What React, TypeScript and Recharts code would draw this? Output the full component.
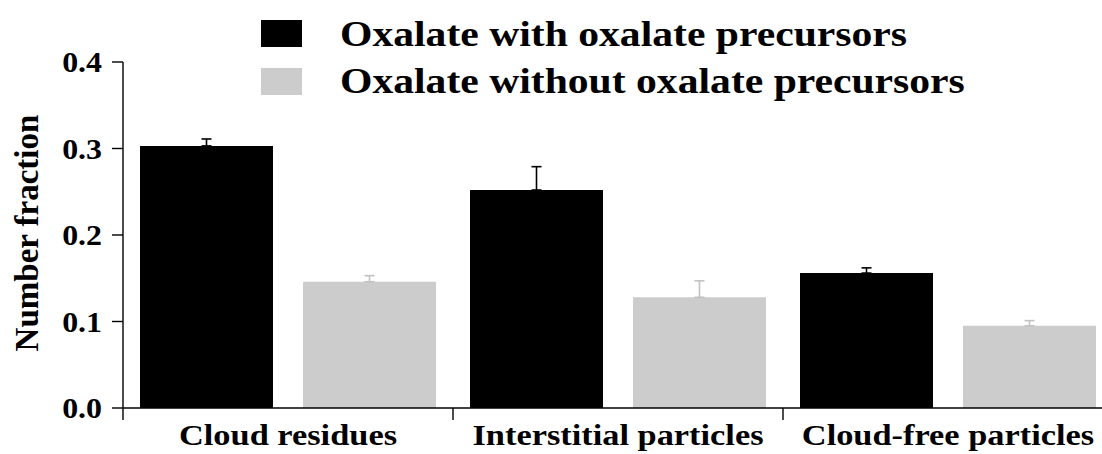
import { BarChart, Bar, XAxis, YAxis, ErrorBar, Legend } from "recharts";

const categories = ["Cloud residues", "Interstitial particles", "Cloud-free particles"];
const withPrecursors = [0.303, 0.252, 0.156];
const withPrecursorsErr = [0.008, 0.027, 0.006];
const withoutPrecursors = [0.146, 0.128, 0.095];
const withoutPrecursorsErr = [0.007, 0.019, 0.006];
const yTicks = [0, 0.1, 0.2, 0.3, 0.4];

const seriesNames = ["Oxalate with oxalate precursors", "Oxalate without oxalate precursors"];

const data = categories.map((name, i) => ({
  name,
  withP: withPrecursors[i],
  withPErr: [0, withPrecursorsErr[i]],
  withoutP: withoutPrecursors[i],
  withoutPErr: [0, withoutPrecursorsErr[i]],
}));

const FONT = '"Liberation Serif", "Times New Roman", serif';

function XTick(props: any) {
  const { x, y, payload } = props;
  const half = payload?.offset ?? 165;
  return (
    <g>
      <line x1={x - half} y1={y - 12} x2={x - half} y2={y} stroke="#000" strokeWidth={1.4} />
      <text
        transform={`translate(${x}, ${y + 25}) scale(1.146, 1)`}
        textAnchor="middle"
        fontFamily={FONT}
        fontWeight={700}
        fontSize={30}
        fill="#000"
      >
        {payload.value}
      </text>
    </g>
  );
}

function YTick(props: any) {
  const { x, y, payload } = props;
  return (
    <text
      transform={`translate(${x}, ${y + 10}) scale(1.1, 1)`}
      textAnchor="end"
      fontFamily={FONT}
      fontWeight={700}
      fontSize={29}
      fill="#000"
    >
      {Number(payload.value).toFixed(1)}
    </text>
  );
}

function renderYLabel() {
  return (
    <text
      x={38}
      y={233}
      transform="rotate(-90 38 233)"
      textAnchor="middle"
      fontFamily={FONT}
      fontWeight={700}
      fontSize={33}
      fill="#000"
    >
      Number fraction
    </text>
  );
}

function renderLegend(props: any) {
  const payload = props.payload || [];
  return (
    <svg width={1102} height={110} style={{ display: "block" }}>
      {payload.map((entry: any, i: number) => (
        <g key={entry.value}>
          <rect x={261} y={20 + i * 48} width={41} height={27} fill={entry.color} />
          <text
            transform={`translate(340, ${46 + i * 47}) scale(1.19, 1)`}
            fontFamily={FONT}
            fontWeight={700}
            fontSize={35}
            fill="#000"
          >
            {entry.value}
          </text>
        </g>
      ))}
    </svg>
  );
}

export default function App() {
  return (
    <div
      style={{
        position: "absolute",
        left: 0,
        top: 0,
        width: 1102,
        height: 454,
        overflow: "hidden",
        background: "#fff",
      }}
    >
      <BarChart
        width={1113}
        height={454}
        data={data}
        margin={{ top: 62, right: 0, bottom: 0, left: 0 }}
        barSize={133}
        barGap={30}
      >
        <XAxis
          dataKey="name"
          height={46}
          tickSize={12}
          tickMargin={0}
          tickLine={false}
          axisLine={{ stroke: "#000", strokeWidth: 1.4 }}
          tick={<XTick />}
          interval={0}
        />
        <YAxis
          width={123}
          domain={[0, 0.4]}
          ticks={yTicks}
          tickSize={11}
          tickMargin={10}
          tickLine={{ stroke: "#000", strokeWidth: 1.4 }}
          axisLine={{ stroke: "#000", strokeWidth: 1.4 }}
          tick={<YTick />}
          label={renderYLabel}
          allowDataOverflow
        />
        <Legend
          layout="vertical"
          align="center"
          verticalAlign="middle"
          content={renderLegend}
          wrapperStyle={{ top: 0, left: 0, width: 1102, height: 110, margin: 0 }}
        />
        <Bar dataKey="withP" name={seriesNames[0]} fill="#000000" isAnimationActive={false}>
          <ErrorBar dataKey="withPErr" direction="y" width={5} stroke="#000" strokeWidth={1.6} />
        </Bar>
        <Bar dataKey="withoutP" name={seriesNames[1]} fill="#cccccc" isAnimationActive={false}>
          <ErrorBar dataKey="withoutPErr" direction="y" width={5} stroke="#c2c2c2" strokeWidth={1.6} />
        </Bar>
      </BarChart>
    </div>
  );
}
